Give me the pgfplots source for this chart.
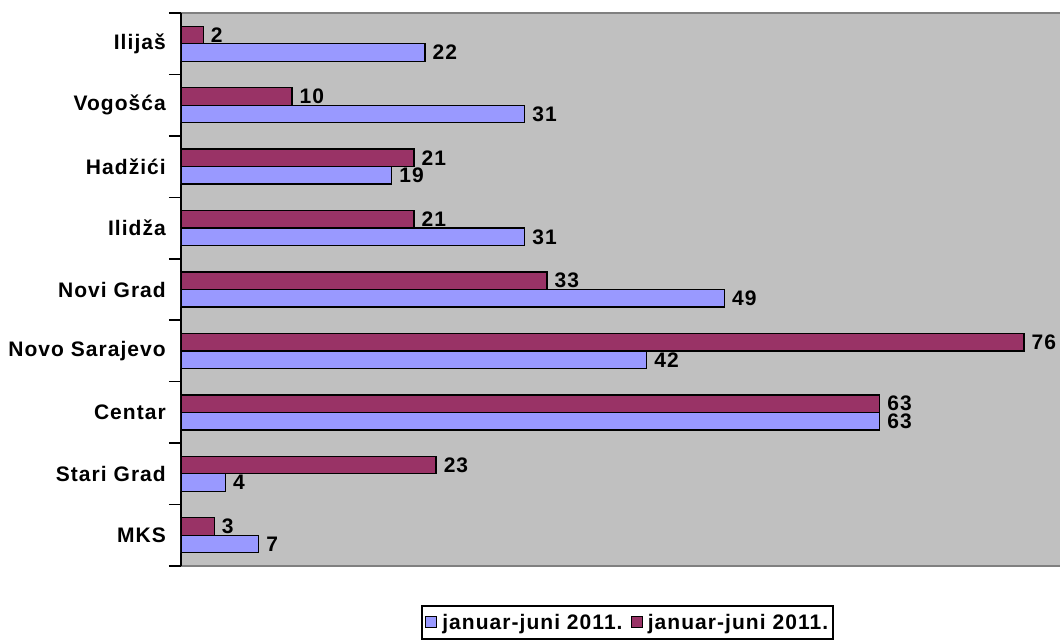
\documentclass[border=0pt]{standalone}
\usepackage{pgfplots}
\pgfplotsset{compat=1.18}
\usepackage{fontspec}
\setmainfont{Liberation Sans}
\definecolor{serA}{HTML}{9999FF}
\definecolor{serB}{HTML}{993366}
\definecolor{plotbg}{HTML}{C0C0C0}
\definecolor{frame}{HTML}{808080}
\newcommand{\lbl}{\fontsize{21}{25}\selectfont\bfseries\addfontfeatures{LetterSpace=5}}
\begin{document}
\begin{tikzpicture}
\path[use as bounding box] (0pt,0pt) rectangle (1060pt,643pt);
\begin{axis}[
  at={(181pt,77pt)}, anchor=south west,
  scale only axis, width=879pt, height=553pt,
  xbar, bar width=0.285,
  xmin=0, xmax=79.25, ymin=-0.5, ymax=8.5,
  axis background/.style={fill=plotbg},
  axis x line*=box, axis y line*=left,
  x axis line style={draw=frame, line width=2pt},
  y axis line style={draw=black, line width=1.5pt},
  xtick=\empty,
  ytick={0,1,2,3,4,5,6,7,8},
  yticklabels={MKS,Stari Grad,Centar,Novo Sarajevo,Novi Grad,Ilidža,Hadžići,Vogošća,Ilijaš},
  major tick length=0pt,
  extra y ticks={-0.5,0.5,1.5,2.5,3.5,4.5,5.5,6.5,7.5,8.5},
  extra y tick labels={},
  extra y tick style={major tick length=12pt, tick style={line width=1.5pt, black}},
  yticklabel style={font=\lbl, anchor=east, inner sep=0pt, xshift=-15pt},
  /pgf/number format/assume math mode=true,
  nodes near coords,
  every node near coord/.append style={font=\lbl, anchor=west, inner sep=0pt, xshift=7pt, black},
  legend image code/.code={\draw[#1,draw=black,line width=1.3pt] (0pt,-5.5pt) rectangle (11pt,5.5pt);},
  legend style={at={(0.273,-0.0705)}, anchor=north west, draw=black, line width=2pt,
    legend columns=2, font=\lbl, inner xsep=3pt, inner ysep=6pt,
    /tikz/every odd column/.append style={column sep=3pt},
    /tikz/every even column/.append style={column sep=6pt}},
  legend cell align=left,
]
\addplot[fill=serA, draw=black, line width=1.3pt, bar shift=-0.1425] coordinates {
(7,0) (4,1) (63,2) (42,3) (49,4) (31,5) (19,6) (31,7) (22,8)};
\addplot[fill=serB, draw=black, line width=1.3pt, bar shift=0.1425] coordinates {
(3,0) (23,1) (63,2) (76,3) (33,4) (21,5) (21,6) (10,7) (2,8)};
\legend{januar-juni 2011.,januar-juni 2011.}
\end{axis}
\end{tikzpicture}
\end{document}
